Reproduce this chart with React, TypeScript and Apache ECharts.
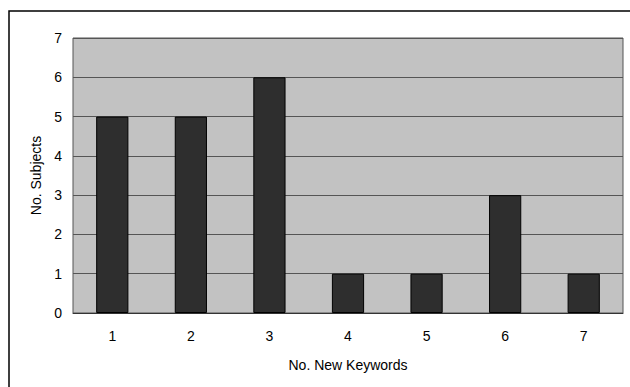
import React, { useEffect, useRef } from "react";
import * as echarts from "echarts";

const categories = ["1", "2", "3", "4", "5", "6", "7"];
const subjects = [5, 5, 6, 1, 1, 3, 1];
const xName = "No. New Keywords";
const yName = "No. Subjects";

export default function App() {
  const ref = useRef<HTMLDivElement>(null);
  useEffect(() => {
    document.body.style.margin = "0";
    const chart = echarts.init(ref.current!, undefined, { renderer: "svg" });
    chart.setOption({
      animation: false,
      backgroundColor: "#ffffff",
      textStyle: { fontFamily: "Liberation Sans, Arial, sans-serif", color: "#000" },
      graphic: [
        {
          type: "rect",
          shape: { x: 9, y: 11, width: 640, height: 400 },
          style: { fill: "none", stroke: "#000", lineWidth: 1.5 },
          z: -10,
        },
      ],
      grid: {
        left: 73,
        top: 38,
        right: 7,
        bottom: 74,
        show: true,
        backgroundColor: "#c2c2c2",
        borderColor: "#555",
        borderWidth: 1,
      },
      xAxis: {
        type: "category",
        data: categories,
        name: xName,
        nameLocation: "middle",
        nameGap: 45,
        nameTextStyle: { fontSize: 14, color: "#000" },
        axisLine: { lineStyle: { color: "#333", width: 1 } },
        axisTick: { show: false },
        axisLabel: { fontSize: 14, color: "#000", margin: 16 },
      },
      yAxis: {
        type: "value",
        min: 0,
        max: 7,
        interval: 1,
        name: yName,
        nameLocation: "middle",
        nameGap: 30,
        nameTextStyle: { fontSize: 14, color: "#000" },
        axisLine: { show: false },
        axisTick: { show: false },
        axisLabel: { fontSize: 14, color: "#000", margin: 11 },
        splitLine: { lineStyle: { color: "#555", width: 1 } },
      },
      series: [
        {
          type: "bar",
          data: subjects,
          barWidth: "41%",
          itemStyle: { color: "#2e2e2e", borderColor: "#000", borderWidth: 1 },
        },
      ],
    });
    return () => chart.dispose();
  }, []);
  return <div ref={ref} style={{ width: 630, height: 387 }} />;
}
